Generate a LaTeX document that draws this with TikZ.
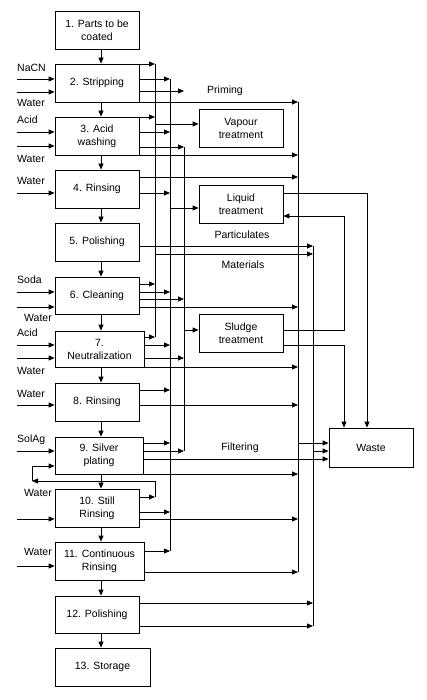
\documentclass[tikz,border=0pt]{standalone}
\usepackage{fontspec}
\setmainfont{Liberation Sans}
\usetikzlibrary{arrows.meta}

\begin{document}
\begin{tikzpicture}[x=1pt, y=-1pt,
  stage/.style={draw, line width=0.8pt, minimum width=84pt, minimum height=38pt,
                inner sep=0pt, align=center, font=\fontsize{10.5}{13}\selectfont},
  feed/.style={anchor=west, inner sep=0pt, font=\fontsize{10.5}{13}\selectfont},
  tag/.style={inner sep=0pt, font=\fontsize{10.5}{13}\selectfont},
  arr/.style={line width=0.8pt, -{Triangle[length=6pt,width=5pt]}},
  bus/.style={line width=0.8pt},
]
\useasboundingbox (0,0) rectangle (426,700);

% process stages
\node[stage] (s1) at (97,30.5) {1. Parts to be\\coated};
\node[stage] (s2) at (97,83) {2. Stripping};
\node[stage] (s3) at (97,136) {3. Acid\\washing};
\node[stage] (s4) at (97,189) {4. Rinsing};
\node[stage] (s5) at (97,242) {5. Polishing};
\node[stage, minimum height=37pt] (s6) at (97,295.5) {6. Cleaning};
\node[stage, minimum width=89pt, minimum height=36pt] (s7) at (99.5,349) {7.\\Neutralization};
\node[stage] (s8) at (97,402) {8. Rinsing};
\node[stage, minimum width=88pt, minimum height=37pt] (s9) at (99,455.5) {9. Silver\\plating};
\node[stage] (s10) at (97,508) {10. Still\\Rinsing};
\node[stage, minimum width=89pt] (s11) at (99.5,561) {11. Continuous\\Rinsing};
\node[stage, minimum height=37pt] (s12) at (97,614.5) {12. Polishing};
\node[stage, minimum width=95pt] (s13) at (102.5,667) {13. Storage};

% treatment
\node[stage] (vap) at (241,128) {Vapour\\treatment};
\node[stage] (liq) at (241,204) {Liquid\\treatment};
\node[stage] (slu) at (241,333) {Sludge\\treatment};
\node[stage, minimum height=39pt] (waste) at (371,447.5) {Waste};

% bus lines
\coordinate (flow) at (101,0);
\coordinate (inx) at (17,0);
\coordinate (loop) at (32,0);
\coordinate (bA) at (155,0);
\coordinate (bB) at (170,0);
\coordinate (bC) at (184,0);
\coordinate (bD) at (298,0);
\coordinate (bE) at (313,0);
\coordinate (rA) at (344,0);
\coordinate (rB) at (367,0);

\foreach \a/\b in {s1/s2,s2/s3,s3/s4,s4/s5,s5/s6,s6/s7,s7/s8,s8/s9,s9/s10,s10/s11,s11/s12,s12/s13}
  \draw[arr] (\a.south -| flow) -- (\b.north -| flow);

% inputs
\foreach \s/\y in {s2/79,s2/92,s3/132,s3/146,s4/193,s6/292,s6/307,s7/345,s7/358,s8/405,s9/451,s10/519,s11/566}
  \draw[arr] (inx |- 0,\y) -- (\s.west |- 0,\y);

\node[feed] (n1) at (17,68) {NaCN};
\node[feed] (n2) at (17,103) {Water};
\node[feed] (n3) at (17,120) {Acid};
\node[feed] (n4) at (17,159) {Water};
\node[feed] (n5) at (17,181) {Water};
\node[feed] (n6) at (17,280) {Soda};
\node[feed] (n7) at (24,318) {Water};
\node[feed] (n8) at (17,333) {Acid};
\node[feed] (n9) at (17,371) {Water};
\node[feed] (n10) at (17,394) {Water};
\node[feed] (n11) at (17,440) {SolAg};
\node[feed] (n12) at (24,493) {Water};
\node[feed] (n13) at (24,552) {Water};

% outputs
\foreach \s/\y/\b in {s2/64/bA,s2/79/bB,s2/91/bC,s3/117/bA,s3/132/bB,s3/147/bC,s4/193/bB,
    s6/284/bA,s6/292/bB,s6/299/bC,s7/337/bA,s7/345/bB,s7/358/bC,s8/390/bB,s9/443/bB,
    s9/451/bC,s10/512/bB,s11/551/bB,
    s2/102/bD,s3/155/bD,s4/177/bD,s6/307/bD,s7/367/bD,s8/405/bD,s9/474/bD,s10/519/bD,s11/572/bD,
    s5/246/bE,s12/603/bE,s12/626/bE}
  \draw[arr] (\s.east |- 0,\y) -- (\b |- 0,\y);

\draw[bus] (bA |- 0,64) -- (bA |- 0,337);
\draw[bus] (bB |- 0,79) -- (bB |- 0,551);
\draw[bus] (bC |- 0,147) -- (bC |- 0,451);
\draw[bus] (bD |- 0,102) -- (bD |- 0,572);
\draw[bus] (bE |- 0,246) -- (bE |- 0,626);

\draw[arr] (bA |- 0,124) -- (vap.west |- 0,124);
\draw[arr] (bA |- 0,254) -- (bE |- 0,254);
\draw[arr] (bB |- 0,208) -- (liq.west |- 0,208);
\draw[arr] (bC |- 0,330) -- (slu.west |- 0,330);
\draw[arr] (bD |- 0,443) -- (waste.west |- 0,443);
\draw[arr] (bE |- 0,451) -- (waste.west |- 0,451);
\draw[arr] (s9.east |- 0,459) -- (waste.west |- 0,459);

\draw[arr] (liq.east |- 0,193) -| (waste.north -| rB);
\draw[arr] (slu.east |- 0,330) -| (rA |- 0,216) -- (liq.east |- 0,216);
\draw[arr] (slu.east |- 0,345) -| (waste.north -| rA);

% recycle
\draw[arr] (s10.east |- 0,497) -- (bA |- 0,497);
\draw[arr] (bA |- 0,497) |- (loop |- 0,481);
\draw[arr] (loop |- 0,481) |- (s9.west |- 0,466);

\node[tag] (priming) at (225,91) {Priming};
\node[tag] (partic) at (242,235) {Particulates};
\node[tag] (mater) at (243,265) {Materials};
\node[tag] (filter) at (240,448) {Filtering};
\end{tikzpicture}
\end{document}
